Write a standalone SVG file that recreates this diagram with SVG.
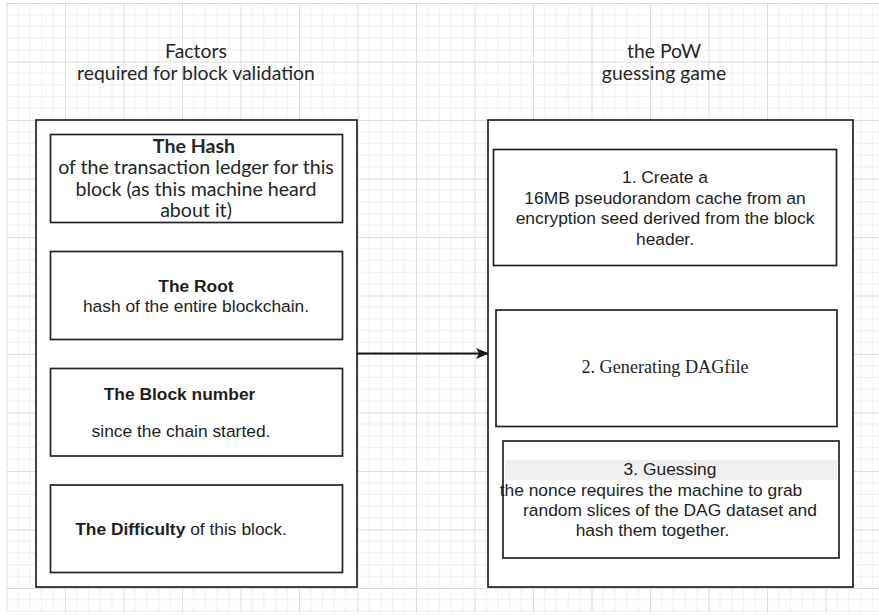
<svg xmlns="http://www.w3.org/2000/svg" width="879" height="615" viewBox="0 0 879 615">
  <style>
    .frame { fill: #ffffff; stroke: #222222; stroke-width: 1.7; }
    .card { fill: #ffffff; stroke: #222222; stroke-width: 1.7; }
    .title { font-family: Lato, "Open Sans", sans-serif; font-size: 19.4px; fill: #262626; text-anchor: middle; }
    .hum { font-family: Lato, "Open Sans", sans-serif; font-size: 19.6px; fill: #262626; text-anchor: middle; }
    .sans { font-family: "Liberation Sans", Arial, sans-serif; font-size: 17.4px; fill: #1e1e1e; text-anchor: middle; }
    .serif { font-family: "Liberation Serif", "Times New Roman", serif; font-size: 18.2px; fill: #1e1e1e; text-anchor: middle; }
    .b { font-weight: bold; }
    .link { stroke: #1a1a1a; stroke-width: 1.8; fill: none; }
  </style>
  <defs>
    <pattern id="grid" patternUnits="userSpaceOnUse" x="6.5" y="3" width="58.5" height="58.5">
      <g stroke="#eeeeee" stroke-width="1">
        <line x1="11.7" y1="0" x2="11.7" y2="58.5"/>
        <line x1="23.4" y1="0" x2="23.4" y2="58.5"/>
        <line x1="35.1" y1="0" x2="35.1" y2="58.5"/>
        <line x1="46.8" y1="0" x2="46.8" y2="58.5"/>
        <line x1="0" y1="11.7" x2="58.5" y2="11.7"/>
        <line x1="0" y1="23.4" x2="58.5" y2="23.4"/>
        <line x1="0" y1="35.1" x2="58.5" y2="35.1"/>
        <line x1="0" y1="46.8" x2="58.5" y2="46.8"/>
      </g>
      <g stroke="#dcdcdc" stroke-width="1">
        <line x1="0.5" y1="0" x2="0.5" y2="58.5"/>
        <line x1="0" y1="0.5" x2="58.5" y2="0.5"/>
      </g>
    </pattern>
    <marker id="arrow" markerWidth="13" markerHeight="11" refX="12" refY="5.5" orient="auto" markerUnits="userSpaceOnUse">
      <path d="M0,0 L13,5.5 L0,11 L3,5.5 Z" fill="#1a1a1a"/>
    </marker>
  </defs>

  <!-- canvas background with drawing grid -->
  <rect x="0" y="0" width="879" height="615" fill="#ffffff"/>
  <rect x="6" y="3" width="873" height="609" fill="url(#grid)"/>

  <!-- column headings -->
  <g id="title-factors">
    <text class="title" x="196" y="57.5">Factors</text>
    <text class="title" x="196" y="80">required for block validation</text>
  </g>
  <g id="title-pow">
    <text class="title" x="664" y="57.5">the PoW</text>
    <text class="title" x="664" y="80">guessing game</text>
  </g>

  <!-- left container -->
  <g id="factors">
    <rect class="frame" x="36" y="120" width="321" height="467"/>
  </g>

  <g id="hash">
    <rect class="card" x="50.5" y="134.5" width="292" height="88"/>
    <text class="hum b" x="194" y="152.5">The Hash</text>
    <text class="hum" x="196" y="174">of the transaction ledger for this</text>
    <text class="hum" x="196" y="195.5">block (as this machine heard</text>
    <text class="hum" x="196" y="216.5">about it)</text>
  </g>

  <g id="root">
    <rect class="card" x="50.5" y="251.5" width="292" height="88"/>
    <text class="sans b" x="196" y="291.5">The Root</text>
    <text class="sans" x="196" y="311.5">hash of the entire blockchain.</text>
  </g>

  <g id="block-number">
    <rect class="card" x="50.5" y="368.5" width="292" height="87.5"/>
    <text class="sans b" x="179.5" y="400">The Block number</text>
    <text class="sans" x="181" y="437">since the chain started.</text>
  </g>

  <g id="difficulty">
    <rect class="card" x="50.5" y="485" width="292" height="87.5"/>
    <text class="sans" x="181" y="535"><tspan class="b">The Difficulty</tspan> of this block.</text>
  </g>

  <!-- right container -->
  <g id="pow">
    <rect class="frame" x="488" y="120" width="365" height="467"/>
  </g>

  <g id="step-cache">
    <rect class="card" x="493.5" y="149.5" width="343" height="116"/>
    <text class="sans" x="665" y="182.5">1. Create a</text>
    <text class="sans" x="665" y="203.5">16MB pseudorandom cache from an</text>
    <text class="sans" x="665" y="224">encryption seed derived from the block</text>
    <text class="sans" x="665" y="245">header.</text>
  </g>

  <g id="step-dag">
    <rect class="card" x="496" y="310" width="341" height="116.5"/>
    <text class="serif" x="665" y="373">2.  Generating DAGfile</text>
  </g>

  <g id="step-guess">
    <rect class="card" x="503" y="441" width="336" height="117"/>
    <rect x="505" y="460" width="332" height="20" fill="#efefef"/>
    <text class="sans" x="670" y="475">3. Guessing</text>
    <text class="sans" x="651" y="495.5">the nonce requires the machine to grab</text>
    <text class="sans" x="670" y="515.5">random slices of the DAG dataset and</text>
    <text class="sans" x="652.5" y="536">hash them together.</text>
  </g>

  <!-- connectors -->
  <g id="connectors">
    <line class="link" x1="357" y1="353.5" x2="488" y2="353.5" marker-end="url(#arrow)"/>
  </g>
</svg>
